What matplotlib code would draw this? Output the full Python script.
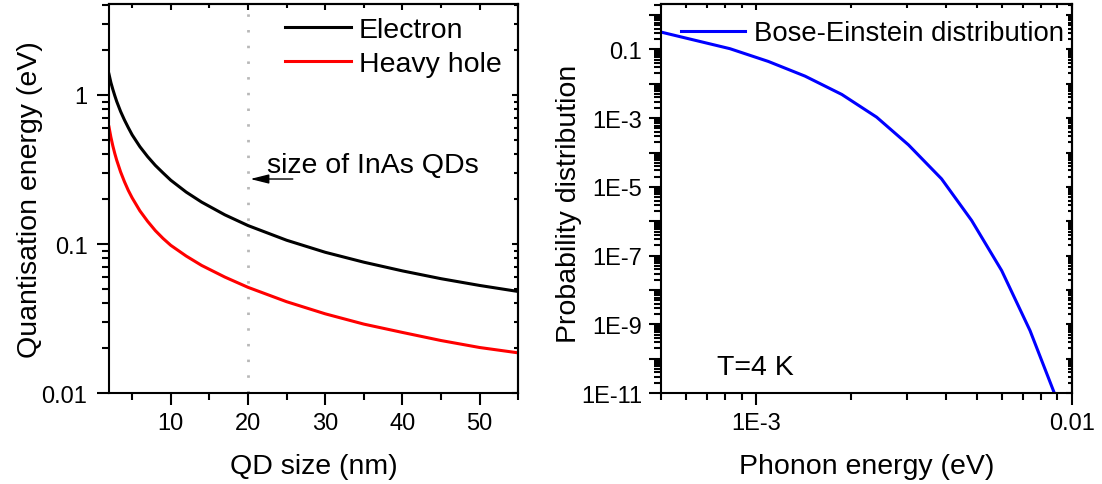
import matplotlib
matplotlib.use("Agg")
import matplotlib.pyplot as plt
from matplotlib.ticker import FixedLocator, LogLocator, MultipleLocator, NullFormatter, FuncFormatter
import numpy as np

plt.rcParams['font.family'] = ['Liberation Sans', 'DejaVu Sans']
plt.rcParams['axes.linewidth'] = 1.5

# quantisation energies vs dot size
qd_size = [2, 2.25, 2.5, 2.75, 3, 3.5, 4, 4.5, 5, 6, 7, 8, 9, 10, 12, 14, 17,
           20, 25, 30, 35, 40, 45, 50, 55]
e_electron = [1.38, 1.21, 1.09, 0.99, 0.905, 0.776, 0.68, 0.604, 0.54, 0.45, 0.386,
              0.337, 0.30, 0.268, 0.223, 0.191, 0.157, 0.133, 0.106, 0.088, 0.0755,
              0.066, 0.0585, 0.0527, 0.048]
e_heavy_hole = [0.61, 0.52, 0.455, 0.405, 0.365, 0.305, 0.262, 0.229, 0.204, 0.167,
                0.142, 0.123, 0.109, 0.098, 0.083, 0.0718, 0.060, 0.0512, 0.041, 0.034,
                0.029, 0.0255, 0.0225, 0.0202, 0.0186]
inas_size = 20

# phonon occupation at 4 K
phonon_e = [5.0e-4, 8.27e-4, 1.094e-3, 1.43e-3, 1.87e-3, 2.41e-3, 3.04e-3,
            3.87e-3, 4.82e-3, 6.0e-3, 7.38e-3, 8.81e-3]
bose_einstein = [0.32, 0.105, 0.0447, 0.0167, 4.89e-3, 1.07e-3, 1.67e-4,
                 1.71e-5, 1.05e-6, 3.66e-8, 6.55e-10, 1e-11]

y_labels = {-1: '0.1', -3: '1E-3', -5: '1E-5', -7: '1E-7', -9: '1E-9', -11: '1E-11'}
x_labels = {-3: '1E-3', -2: '0.01'}

FS = 20.5
TICK_FS = 17

fig = plt.figure(figsize=(11.02, 4.85), dpi=100)
ax1 = fig.add_axes([0.0989, 0.1876, 0.3714, 0.8021])
ax2 = fig.add_axes([0.5998, 0.1876, 0.3727, 0.8021])


def style_ticks(ax):
    ax.tick_params(which='major', direction='out', length=8.5, width=1.5,
                   labelsize=TICK_FS, pad=5, top=False, right=False)
    ax.tick_params(which='minor', direction='out', length=5, width=1.5,
                   top=False, right=False)


def mirror_axes(ax, xmaj, xmin, ymaj, ymin):
    top = ax.secondary_xaxis('top')
    right = ax.secondary_yaxis('right')
    top.xaxis.set_major_locator(xmaj)
    top.xaxis.set_minor_locator(xmin)
    right.yaxis.set_major_locator(ymaj)
    right.yaxis.set_minor_locator(ymin)
    for sec in (top, right):
        sec.tick_params(which='major', direction='in', length=4, width=1.5,
                        labeltop=False, labelright=False)
        sec.tick_params(which='minor', direction='in', length=3, width=1.5)
        sec.xaxis.set_major_formatter(NullFormatter())
        sec.xaxis.set_minor_formatter(NullFormatter())
        sec.yaxis.set_major_formatter(NullFormatter())
        sec.yaxis.set_minor_formatter(NullFormatter())


# left panel
ax1.plot(qd_size, e_electron, color='black', lw=2.2, label='Electron')
ax1.plot(qd_size, e_heavy_hole, color='red', lw=2.2, label='Heavy hole')
ax1.axvline(inas_size, color='#b8b8b8', lw=2, ls=(0, (0.9, 4.75)), zorder=0)
ax1.set_yscale('log')
ax1.set_xlim(2, 55)
ax1.set_ylim(0.01, 4.08)
ax1.xaxis.set_major_locator(MultipleLocator(10))
ax1.xaxis.set_minor_locator(MultipleLocator(5))
ax1.yaxis.set_major_locator(FixedLocator([0.01, 0.1, 1]))
ax1.yaxis.set_major_formatter(FuncFormatter(lambda v, p: '%g' % v))
ax1.yaxis.set_minor_locator(LogLocator(base=10, subs=range(2, 10), numticks=20))
ax1.yaxis.set_minor_formatter(NullFormatter())
style_ticks(ax1)
ax1.tick_params(axis='y', which='major', pad=7)
mirror_axes(ax1, MultipleLocator(10), MultipleLocator(5),
            FixedLocator([0.01, 0.1, 1]),
            LogLocator(base=10, subs=range(2, 10), numticks=20))

ax1.annotate('', xy=(20.3, 0.273), xytext=(25.8, 0.273),
             arrowprops=dict(arrowstyle='-|>,head_length=0.8,head_width=0.2',
                             color='black', lw=1, mutation_scale=14,
                             shrinkA=0, shrinkB=0))
ax1.text(22.45, 0.304, 'size of InAs QDs', fontsize=FS, va='baseline')

ax1.legend(loc='upper right', bbox_to_anchor=(0.99, 1.0), frameon=False,
           fontsize=FS, handlelength=2.35, handletextpad=0.25,
           labelspacing=0.29, borderaxespad=0.05)
ax1.set_xlabel('QD size (nm)', fontsize=FS)
ax1.set_ylabel('Quantisation energy (eV)', fontsize=FS)
ax1.xaxis.set_label_coords(0.5, -0.155)
ax1.yaxis.set_label_coords(-0.162, 0.5)

# right panel
ax2.plot(phonon_e, bose_einstein, color='blue', lw=2.2, label='Bose-Einstein distribution')
ax2.set_xscale('log')
ax2.set_yscale('log')
ax2.set_xlim(5e-4, 1e-2)
ax2.set_ylim(1e-11, 2.1)
ax2.xaxis.set_major_locator(FixedLocator([1e-3, 1e-2]))
ax2.xaxis.set_major_formatter(FuncFormatter(
    lambda v, p: x_labels.get(int(round(np.log10(v))), '')))
ax2.xaxis.set_minor_locator(LogLocator(base=10, subs=range(2, 10), numticks=20))
ax2.xaxis.set_minor_formatter(NullFormatter())
ax2.yaxis.set_major_locator(FixedLocator([10.0 ** k for k in range(-11, 1)]))
ax2.yaxis.set_major_formatter(FuncFormatter(
    lambda v, p: y_labels.get(int(round(np.log10(v))), '')))
ax2.yaxis.set_minor_locator(LogLocator(base=10, subs=range(2, 10), numticks=30))
ax2.yaxis.set_minor_formatter(NullFormatter())
style_ticks(ax2)
mirror_axes(ax2, FixedLocator([1e-3, 1e-2]),
            LogLocator(base=10, subs=range(2, 10), numticks=20),
            FixedLocator([10.0 ** k for k in range(-11, 1)]),
            LogLocator(base=10, subs=range(2, 10), numticks=30))

ax2.text(0.1356, 0.0488, 'T=4 K', fontsize=FS, va='baseline', transform=ax2.transAxes)
ax2.legend(loc='upper left', bbox_to_anchor=(0.008, 1.0), frameon=False,
           fontsize=19.8, handlelength=2.35, handletextpad=0.3, borderaxespad=0.2)
ax2.set_xlabel('Phonon energy (eV)', fontsize=FS)
ax2.set_ylabel('Probability distribution', fontsize=FS)
ax2.xaxis.set_label_coords(0.5, -0.155)
ax2.yaxis.set_label_coords(-0.192, 0.49)

fig.savefig('out.png', dpi=100)
